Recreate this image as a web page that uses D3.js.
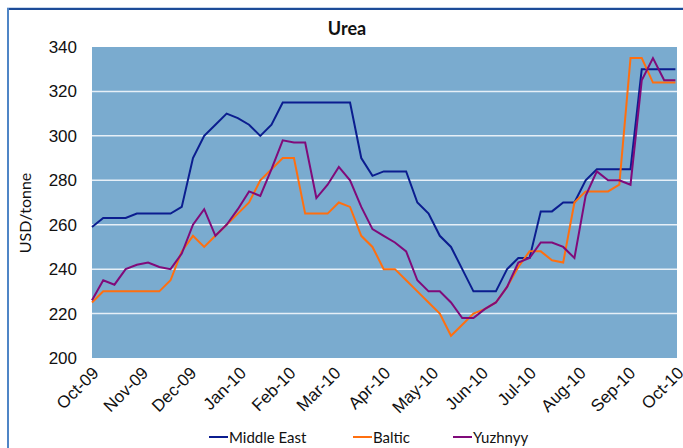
<!DOCTYPE html>
<html>
<head>
<meta charset="utf-8">
<script src="https://cdn.jsdelivr.net/npm/d3@7"></script>
<style>
  body { margin: 0; background: #fff; }
  svg { display: block; font-family: Lato, "Open Sans", sans-serif; }
</style>
</head>
<body>
<svg id="svg"></svg>
<script>
// weekly prices, USD/tonne, first point 1 Oct 2009
const startDate = new Date(2009, 9, 1);
const middleEast = [259, 263, 263, 263, 265, 265, 265, 265, 268, 290, 300, 305, 310, 308, 305, 300, 305, 315, 315, 315, 315, 315, 315, 315, 290, 282, 284, 284, 284, 270, 265, 255, 250, 240, 230, 230, 230, 240, 245, 245, 266, 266, 270, 270, 280, 285, 285, 285, 285, 330, 330, 330, 330];
const baltic = [225, 230, 230, 230, 230, 230, 230, 235, 248, 255, 250, 255, 260, 265, 270, 280, 285, 290, 290, 265, 265, 265, 270, 268, 255, 250, 240, 240, 235, 230, 225, 220, 210, 215, 220, 222, 225, 232, 241, 248, 248, 244, 243, 270, 275, 275, 275, 278, 335, 335, 324, 324, 324];
const yuzhnyy = [226, 235, 233, 240, 242, 243, 241, 240, 247, 260, 267, 255, 260, 267, 275, 273, 285, 298, 297, 297, 272, 278, 286, 280, 268, 258, 255, 252, 248, 235, 230, 230, 225, 218, 218, 222, 225, 232, 243, 245, 252, 252, 250, 245, 273, 284, 280, 280, 278, 325, 335, 325, 325];
const seriesNames = ["Middle East", "Baltic", "Yuzhnyy"];
const seriesColors = ["#0b1d8f", "#ff6f0f", "#800a7a"];
const yTicks = [200, 220, 240, 260, 280, 300, 320, 340];

const width = 683;
const height = 448;
const margin = { top: 47, right: 6, bottom: 90, left: 92 };
const chartWidth = width - margin.left - margin.right;
const chartHeight = height - margin.top - margin.bottom;

let svg = d3.select("#svg").attr("width", width).attr("height", height);

function weekDate(i) {
    return d3.timeDay.offset(startDate, i * 7);
}

// outer frame
svg.append("line").attr("x1", 7).attr("x2", width).attr("y1", 7.5).attr("y2", 7.5)
    .attr("stroke", "#c9d8ec").attr("stroke-width", 1);
svg.append("line").attr("x1", 7).attr("x2", width).attr("y1", 9).attr("y2", 9)
    .attr("stroke", "#1d4c98").attr("stroke-width", 2);
svg.append("line").attr("x1", 8).attr("x2", 8).attr("y1", 8).attr("y2", height)
    .attr("stroke", "#4f85c6").attr("stroke-width", 2);

let chart = svg.append("g")
    .attr("transform", "translate(" + margin.left + "," + margin.top + ")");

let xScale = d3.scaleTime()
    .domain([startDate, new Date(2010, 9, 1)])
    .range([0, chartWidth]);

let yScale = d3.scaleLinear()
    .domain([200, 340])
    .range([chartHeight, 0]);

chart.append("rect")
    .attr("width", chartWidth)
    .attr("height", chartHeight)
    .attr("fill", "#7aabcf");

// gridlines
chart.selectAll(".grid")
    .data(yTicks.slice(1, -1))
    .enter().append("line")
    .attr("class", "grid")
    .attr("x1", 0)
    .attr("x2", chartWidth)
    .attr("y1", d => yScale(d))
    .attr("y2", d => yScale(d))
    .attr("stroke", "#e6eff7")
    .attr("stroke-width", 1.5);

// y axis
let yAxis = chart.append("g")
    .call(d3.axisLeft(yScale).tickValues(yTicks).tickSize(0).tickPadding(15));
yAxis.select(".domain").remove();
yAxis.selectAll("text")
    .style("font-size", "17px")
    .attr("fill", "#111");

// x axis
let months = d3.timeMonth.range(startDate, new Date(2010, 9, 2));
let xAxis = chart.append("g")
    .attr("transform", `translate(0,${chartHeight})`)
    .call(d3.axisBottom(xScale).tickValues(months).tickFormat(d3.timeFormat("%b-%y")).tickSize(0));
xAxis.select(".domain").remove();
xAxis.selectAll("text")
    .style("font-size", "17px")
    .attr("fill", "#111")
    .attr("text-anchor", "end")
    .attr("dx", 0)
    .attr("dy", 0)
    .attr("transform", "translate(5,14) rotate(-45)");

// lines
const allSeries = [middleEast, baltic, yuzhnyy];
let line = d3.line()
    .x((d, i) => xScale(weekDate(i)))
    .y(d => yScale(d));

chart.selectAll(".series")
    .data(allSeries)
    .enter().append("path")
    .attr("class", "series")
    .attr("d", d => line(d))
    .attr("fill", "none")
    .attr("stroke", (d, i) => seriesColors[i])
    .attr("stroke-width", 2)
    .attr("stroke-linejoin", "miter");

// title
svg.append("text")
    .attr("x", 347)
    .attr("y", 35)
    .attr("text-anchor", "middle")
    .style("font-size", "18px")
    .style("font-weight", "bold")
    .attr("fill", "#111")
    .text("Urea");

// y label
svg.append("text")
    .attr("transform", "translate(31,213) rotate(-90)")
    .attr("text-anchor", "middle")
    .style("font-size", "16px")
    .attr("fill", "#111")
    .text("USD/tonne");

// legend
const legendX = [209, 353, 453];
let legend = svg.selectAll(".legend")
    .data(seriesNames)
    .enter().append("g")
    .attr("class", "legend")
    .attr("transform", (d, i) => `translate(${legendX[i]},437)`);
legend.append("line")
    .attr("x1", 0).attr("x2", 19)
    .attr("stroke", (d, i) => seriesColors[i])
    .attr("stroke-width", 2);
legend.append("text")
    .attr("x", 20)
    .attr("y", 5.5)
    .style("font-size", "15px")
    .attr("fill", "#111")
    .text(d => d);
</script>
</body>
</html>
